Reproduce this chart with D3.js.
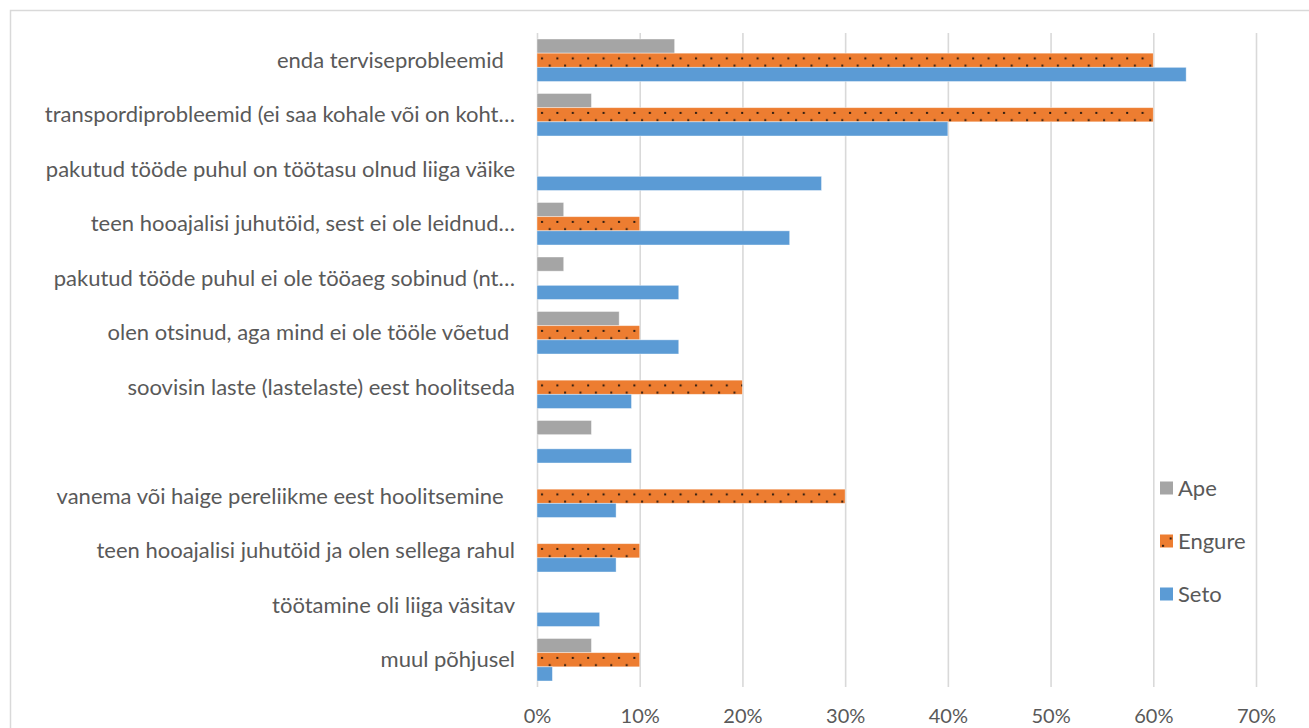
<!DOCTYPE html>
<html lang="et">
<head>
<meta charset="utf-8">
<title>Põhjused</title>
<script src="https://cdn.jsdelivr.net/npm/d3@7"></script>
<style>
  body { margin: 0; background: #fff; }
  text { font-family: Lato, "Open Sans", sans-serif; fill: #595959; }
</style>
</head>
<body>
<div id="chart"></div>
<script>
(function(d3) {
  'use strict';

  var categories = [
    'enda terviseprobleemid  ',
    'transpordiprobleemid (ei saa kohale või on koht…',
    'pakutud tööde puhul on töötasu olnud liiga väike',
    'teen hooajalisi juhutöid, sest ei ole leidnud…',
    'pakutud tööde puhul ei ole tööaeg sobinud (nt…',
    'olen otsinud, aga mind ei ole tööle võetud ',
    'soovisin laste (lastelaste) eest hoolitseda',
    '',
    'vanema või haige pereliikme eest hoolitsemine  ',
    'teen hooajalisi juhutöid ja olen sellega rahul',
    'töötamine oli liiga väsitav',
    'muul põhjusel'
  ];
  var series = ['Ape', 'Engure', 'Seto'];
  var ape    = [0.134, 0.053, 0, 0.026, 0.026, 0.080, 0, 0.053, 0, 0, 0, 0.053];
  var engure = [0.60, 0.60, 0, 0.10, 0, 0.10, 0.20, 0, 0.30, 0.10, 0, 0.10];
  var seto   = [0.632, 0.40, 0.277, 0.246, 0.138, 0.138, 0.092, 0.092, 0.077, 0.077, 0.061, 0.015];
  var ticks = [0, 0.1, 0.2, 0.3, 0.4, 0.5, 0.6, 0.7];

  var colors = { Ape: '#A5A5A5', Engure: '#ED7D31', Seto: '#5B9BD5' };
  var values = { Ape: ape, Engure: engure, Seto: seto };

  var width = 1309, height = 728;
  var svg = d3.select('#chart').append('svg')
    .attr('width', width).attr('height', height);

  // dotted fill for Engure
  var pat = svg.append('defs').append('pattern')
    .attr('id', 'dots').attr('patternUnits', 'userSpaceOnUse')
    .attr('width', 15.4).attr('height', 14.6);
  pat.append('rect').attr('width', 15.4).attr('height', 14.6).attr('fill', colors.Engure);
  pat.append('rect').attr('x', 2).attr('y', 3.8).attr('width', 2).attr('height', 2).attr('fill', '#2a1a10');
  pat.append('rect').attr('x', 9.7).attr('y', 11.1).attr('width', 2).attr('height', 2).attr('fill', '#2a1a10');

  // chart frame
  svg.append('rect')
    .attr('x', 10.5).attr('y', 10.5).attr('width', 1320).attr('height', 740)
    .attr('fill', 'none').attr('stroke', '#D9D9D9').attr('stroke-width', 1.5);

  var x = d3.scaleLinear().domain([0, 0.7]).range([537, 1256]);
  var y = d3.scaleBand().domain(d3.range(categories.length))
    .range([33, 687]).paddingInner(0.22).paddingOuter(0.11);
  var ySub = d3.scaleBand().domain(series).range([0, y.bandwidth()]);

  // gridlines + tick labels
  var axis = svg.append('g')
    .attr('transform', 'translate(0,687)')
    .call(d3.axisBottom(x).tickValues(ticks).tickFormat(d3.format('.0%'))
      .tickSizeInner(-654).tickSizeOuter(0).tickPadding(22));
  axis.select('.domain').remove();
  axis.selectAll('.tick line').attr('stroke', '#D9D9D9').attr('stroke-width', 1.6);
  axis.selectAll('.tick text').attr('fill', '#595959').style('font-size', '20px');

  // bars
  var groups = svg.append('g').selectAll('g')
    .data(categories).enter().append('g')
    .attr('transform', function(d, i) { return 'translate(0,' + y(i) + ')'; });

  groups.selectAll('rect')
    .data(function(d, i) {
      return series.map(function(s) { return { s: s, v: values[s][i] }; });
    })
    .enter().append('rect')
    .filter(function(d) { return d.v > 0; })
    .attr('x', x(0))
    .attr('y', function(d) { return ySub(d.s); })
    .attr('width', function(d) { return x(d.v) - x(0); })
    .attr('height', ySub.bandwidth())
    .attr('fill', function(d) { return d.s === 'Engure' ? 'url(#dots)' : colors[d.s]; })
    .attr('stroke', '#fff').attr('stroke-opacity', 0.5).attr('stroke-width', 0.8);

  // category labels
  svg.append('g').selectAll('text')
    .data(categories).enter().append('text')
    .attr('xml:space', 'preserve')
    .style('white-space', 'pre')
    .attr('x', 515)
    .attr('y', function(d, i) { return y(i) + y.bandwidth() / 2; })
    .attr('dy', '0.35em')
    .attr('text-anchor', 'end')
    .style('font-size', '22px')
    .text(function(d) { return d; });

  // legend
  var legend = svg.append('g').selectAll('g')
    .data(series).enter().append('g')
    .attr('transform', function(d, i) { return 'translate(1160,' + (488 + i * 53) + ')'; });
  legend.append('rect')
    .attr('x', 0).attr('y', -6.5).attr('width', 13).attr('height', 13)
    .attr('fill', function(d) { return d === 'Engure' ? 'url(#dots)' : colors[d]; });
  legend.append('text')
    .attr('x', 18).attr('dy', '0.35em')
    .style('font-size', '22px')
    .text(function(d) { return d; });

})(window.d3);
</script>
</body>
</html>
